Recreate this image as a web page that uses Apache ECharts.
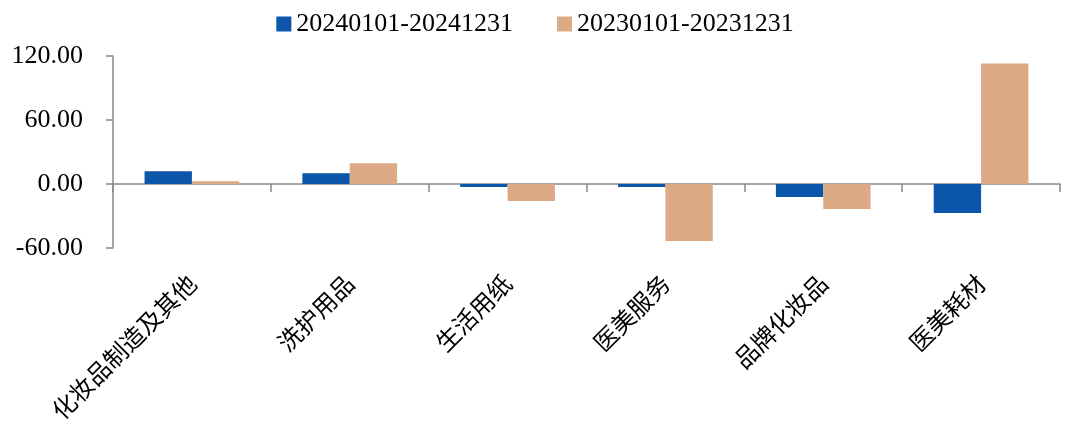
<!DOCTYPE html>
<html>
<head>
<meta charset="utf-8">
<script src="https://cdn.jsdelivr.net/npm/echarts@6/dist/echarts.min.js"></script>
<style>
  html, body { margin: 0; padding: 0; background: #fff; }
  #chart { width: 1070px; height: 427px; }
</style>
</head>
<body>
<div id="chart"></div>
<script>
// categories and values
var categories = ['化妆品制造及其他', '洗护用品', '生活用纸', '医美服务', '品牌化妆品', '医美耗材'];
var seriesNames = ['20240101-20241231', '20230101-20231231'];
var values2024 = [11.9, 10.0, -2.8, -2.8, -12.2, -27.2];
var values2023 = [2.5, 19.4, -16.0, -53.4, -23.4, 113.0];
var yTicks = { min: -60, max: 120, interval: 60 };

var chart = echarts.init(document.getElementById('chart'));
var axisGray = '#898989';
var serif = '"Times New Roman", "Liberation Serif", serif';

var option = {
	animation: false,
	color: ['#0b56a8', '#dcaa84'],
	legend: {
		top: 6,
		left: 'center',
		itemWidth: 15,
		itemHeight: 15,
		itemGap: 44,
		icon: 'rect',
		textStyle: { fontFamily: serif, fontSize: 26, color: '#000' },
		data: seriesNames
	},
	grid: {
		left: 113,
		right: 10,
		top: 56,
		bottom: 179
	},
	xAxis: [{
		// line at zero with the ticks between categories
		type: 'category',
		data: categories,
		position: 'bottom',
		axisLine: { onZero: true, lineStyle: { color: axisGray, width: 1.5 } },
		axisTick: { show: true, length: 8, lineStyle: { color: axisGray, width: 1.5 } },
		axisLabel: { show: false },
		splitLine: { show: false }
	}, {
		// labels only, kept at the bottom of the plot
		type: 'category',
		data: categories,
		position: 'bottom',
		axisLine: { show: false, onZero: false },
		axisTick: { show: false },
		axisLabel: {
			rotate: 45,
			margin: 31,
			fontFamily: '"Noto Sans CJK SC", sans-serif',
			fontSize: 24,
			color: '#000'
		},
		splitLine: { show: false }
	}],
	yAxis: {
		type: 'value',
		min: yTicks.min,
		max: yTicks.max,
		interval: yTicks.interval,
		axisLine: { show: true, lineStyle: { color: axisGray, width: 1.5 } },
		axisTick: { show: true, length: 7, lineStyle: { color: axisGray, width: 1.5 } },
		splitLine: { show: false },
		axisLabel: {
			margin: 30,
			fontFamily: serif,
			fontSize: 26,
			color: '#000',
			formatter: function (v) {
				return v.toFixed(2);
			}
		}
	},
	series: [{
		name: seriesNames[0],
		type: 'bar',
		xAxisIndex: 0,
		data: values2024,
		barGap: '0%',
		barCategoryGap: '40%'
	}, {
		name: seriesNames[1],
		type: 'bar',
		xAxisIndex: 0,
		data: values2023,
		barGap: '0%',
		barCategoryGap: '40%'
	}]
};

chart.setOption(option);

window.addEventListener('resize', function () {
	chart.resize();
});
</script>
</body>
</html>
